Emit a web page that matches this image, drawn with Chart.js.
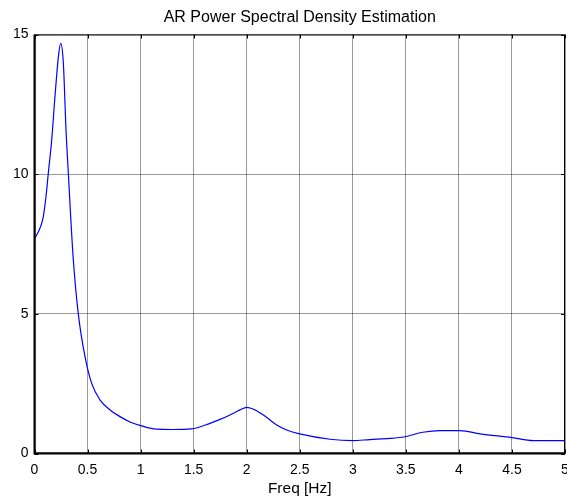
<!DOCTYPE html>
<html>
<head>
<meta charset="utf-8">
<script src="https://cdn.jsdelivr.net/npm/chart.js@4"></script>
<style>
  html, body { margin: 0; padding: 0; background: #fff; }
  #wrap { width: 567px; height: 500px; }
</style>
</head>
<body>
<div id="wrap"><canvas id="myChart" width="567" height="500"></canvas></div>
<script>
// values
var freq = [0, 0.02, 0.06, 0.083, 0.108, 0.13, 0.162, 0.193, 0.225, 0.247, 0.272, 0.297, 0.319, 0.341, 0.366,
  0.413, 0.476, 0.539, 0.617, 0.712, 0.806, 0.9, 1.0, 1.15, 1.3, 1.48, 1.654, 1.749, 1.843, 1.937, 2.0,
  2.078, 2.157, 2.22, 2.283, 2.377, 2.5, 2.785, 3.0, 3.16, 3.35, 3.49, 3.66, 3.82, 4.01, 4.2, 4.5, 4.7, 5.0];
var psd = [7.70, 7.82, 8.15, 8.48, 9.19, 10.03, 11.22, 12.78, 14.2, 14.68, 13.97, 11.58, 10.03, 8.48, 6.93,
  4.99, 3.47, 2.51, 1.92, 1.56, 1.32, 1.13, 1.0, 0.87, 0.86, 0.88, 1.08, 1.22, 1.38, 1.56, 1.65,
  1.56, 1.38, 1.2, 1.02, 0.84, 0.70, 0.51, 0.46, 0.50, 0.54, 0.60, 0.76, 0.82, 0.82, 0.70, 0.57, 0.46, 0.46];
var xTicks = [0, 0.5, 1, 1.5, 2, 2.5, 3, 3.5, 4, 4.5, 5];
var yTicks = [0, 5, 10, 15];

var points = [];
for (var i = 0; i < freq.length; i++) {
  points.push({ x: freq[i], y: psd[i] });
}

var fontFamily = "'Liberation Sans', Arial, Helvetica, sans-serif";

// box around the axes with small inward ticks (matlab style)
var boxPlugin = {
  id: "box",
  afterDraw: function (chart) {
    var ctx = chart.ctx;
    var a = chart.chartArea;
    var xs = chart.scales.x;
    var ys = chart.scales.y;
    ctx.save();
    ctx.strokeStyle = "#000";
    ctx.lineWidth = 1;
    ctx.strokeRect(a.left + 0.5, a.top + 0.5, a.right - a.left - 1, a.bottom - a.top - 1);
    ctx.lineWidth = 2;
    ctx.beginPath();
    ctx.moveTo(a.left, a.top);
    ctx.lineTo(a.left, a.bottom);
    ctx.lineTo(a.right, a.bottom);
    ctx.stroke();
    ctx.lineWidth = 1;
    ctx.beginPath();
    for (var i = 0; i < xTicks.length; i++) {
      var px = Math.round(xs.getPixelForValue(xTicks[i])) + 0.5;
      ctx.moveTo(px, a.bottom);
      ctx.lineTo(px, a.bottom - 4);
      ctx.moveTo(px, a.top);
      ctx.lineTo(px, a.top + 4);
    }
    for (var j = 0; j < yTicks.length; j++) {
      var py = Math.round(ys.getPixelForValue(yTicks[j])) + 0.5;
      ctx.moveTo(a.left, py);
      ctx.lineTo(a.left + 4, py);
      ctx.moveTo(a.right, py);
      ctx.lineTo(a.right - 4, py);
    }
    ctx.stroke();
    ctx.restore();
  },
};

var ctx = document.getElementById("myChart").getContext("2d");
var myChart = new Chart(ctx, {
  type: "line",
  data: {
    datasets: [
      {
        label: "PSD",
        data: points,
        borderColor: "#0000ff",
        borderWidth: 1.2,
        pointRadius: 0,
        fill: false,
        cubicInterpolationMode: "monotone",
      },
    ],
  },
  options: {
    responsive: false,
    animation: false,
    layout: { padding: { left: 0, right: 2, top: 0, bottom: 0 } },
    plugins: {
      legend: { display: false },
      tooltip: { enabled: false },
      title: {
        display: true,
        fullSize: false,
        text: "AR Power Spectral Density Estimation",
        color: "#000",
        font: { family: fontFamily, size: 16, weight: "normal" },
        padding: { top: 8, bottom: 7.3 },
      },
    },
    scales: {
      x: {
        type: "linear",
        min: 0,
        max: 5,
        afterBuildTicks: function (scale) {
          scale.ticks = xTicks.map(function (v) { return { value: v }; });
        },
        afterFit: function (scale) {
          scale.height = 46.5;
          scale.paddingLeft = 0;
          scale.paddingRight = 0;
        },
        grid: { color: "rgba(0,0,0,0.4)", lineWidth: 1, drawTicks: false },
        border: { display: false },
        ticks: {
          color: "#000",
          padding: 8,
          maxRotation: 0,
          font: { family: fontFamily, size: 14 },
          callback: function (v) { return String(v); },
        },
        title: {
          display: true,
          text: "Freq [Hz]",
          color: "#000",
          font: { family: fontFamily, size: 15.5 },
          padding: { top: 0, bottom: 2 },
        },
      },
      y: {
        type: "linear",
        min: 0,
        max: 15,
        afterBuildTicks: function (scale) {
          scale.ticks = yTicks.map(function (v) { return { value: v }; });
        },
        afterFit: function (scale) { scale.width = 34.5; },
        grid: { color: "rgba(0,0,0,0.4)", lineWidth: 1, drawTicks: false },
        border: { display: false },
        ticks: {
          color: "#000",
          padding: 6,
          font: { family: fontFamily, size: 14 },
          callback: function (v) { return String(v); },
        },
      },
    },
  },
  plugins: [boxPlugin],
});
</script>
</body>
</html>
